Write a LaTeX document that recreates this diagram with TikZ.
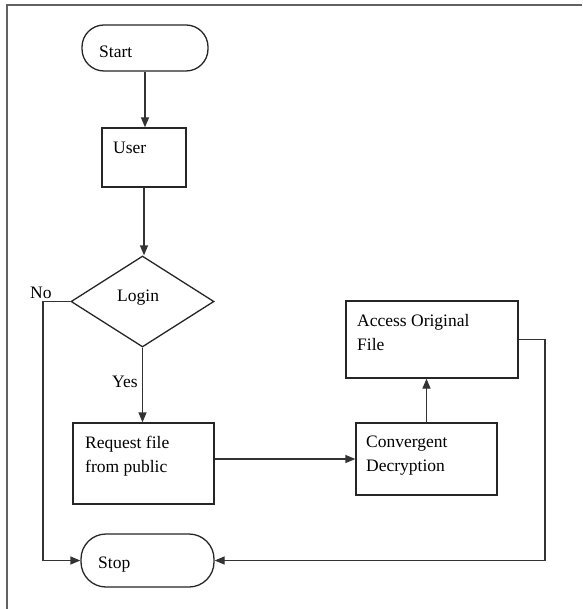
\documentclass[tikz,border=0pt]{standalone}
\usepackage{fontspec}
\setmainfont{Liberation Serif}
\usetikzlibrary{arrows.meta,shapes.geometric}

\tikzset{
  frameline/.style={draw=black!62, line width=2pt},
  flowline/.style={draw=black!80, line width=1.3pt},
  arrowline/.style={flowline, -{Triangle[length=10pt,width=8pt]}},
  boxshape/.style={draw=black!85, line width=1.3pt, inner sep=0pt, fill=white},
  procbox/.style={boxshape, rectangle},
  termbox/.style={boxshape, rectangle, rounded corners=22pt},
  decbox/.style={boxshape, diamond},
  lbl/.style={anchor=base west, inner sep=0pt, font=\fontsize{17.5pt}{24pt}\selectfont, align=left, text=black}
}

\begin{document}
\begin{tikzpicture}[x=1pt, y=-1pt]
\useasboundingbox (0,0) rectangle (582,609);

% page frame (open at the right and bottom)
\draw[frameline] (7,609) -- (7,5) -- (582,5);

% shapes
\node[termbox, minimum width=126pt, minimum height=46pt] (start) at (145,48) {};
\node[procbox, minimum width=84pt, minimum height=59pt] (user) at (144,157.5) {};
\node[decbox, minimum width=143pt, minimum height=91pt] (login) at (142.5,301.5) {};
\node[procbox, minimum width=141pt, minimum height=81pt] (request) at (143.5,463.5) {};
\node[procbox, minimum width=141pt, minimum height=72pt] (conv) at (426.5,459) {};
\node[procbox, minimum width=172pt, minimum height=77pt] (access) at (432,339.5) {};
\node[termbox, minimum width=133pt, minimum height=53pt, rounded corners=25pt] (stop) at (147.5,560.5) {};

% texts (base west sits on the last line of a two-line label)
\node[lbl] (tstart) at (99,57.5) {Start};
\node[lbl] (tuser) at (113,154) {User};
\node[lbl] (tlogin) at (117,301) {Login};
\node[lbl] (tno) at (30,298) {No};
\node[lbl] (tyes) at (112,387) {Yes};
\node[lbl] (treq) at (85,472) {Request file\\from public};
\node[lbl] (tconv) at (366,471.5) {Convergent\\Decryption};
\node[lbl] (taccess) at (357,350) {Access Original\\File};
\node[lbl] (tstop) at (98,568) {Stop};

% bend points of the side connectors
\coordinate (nobend) at (43,430);
\coordinate (retbend) at (545,450);

% connectors
\draw[arrowline] (start.south) -- (start.south |- user.north);
\draw[arrowline] (user.south) -- (user.south |- login.north);
\draw[arrowline] (login.south) -- (login.south |- request.north);
\draw[arrowline] (login.west) -| (nobend) |- (stop.west);
\draw[arrowline] (conv.west -| request.east) -- (conv.west);
\draw[arrowline] (conv.north) -- (conv.north |- access.south);
\draw[arrowline] (access.east) -| (retbend) |- (stop.east);
\end{tikzpicture}
\end{document}
